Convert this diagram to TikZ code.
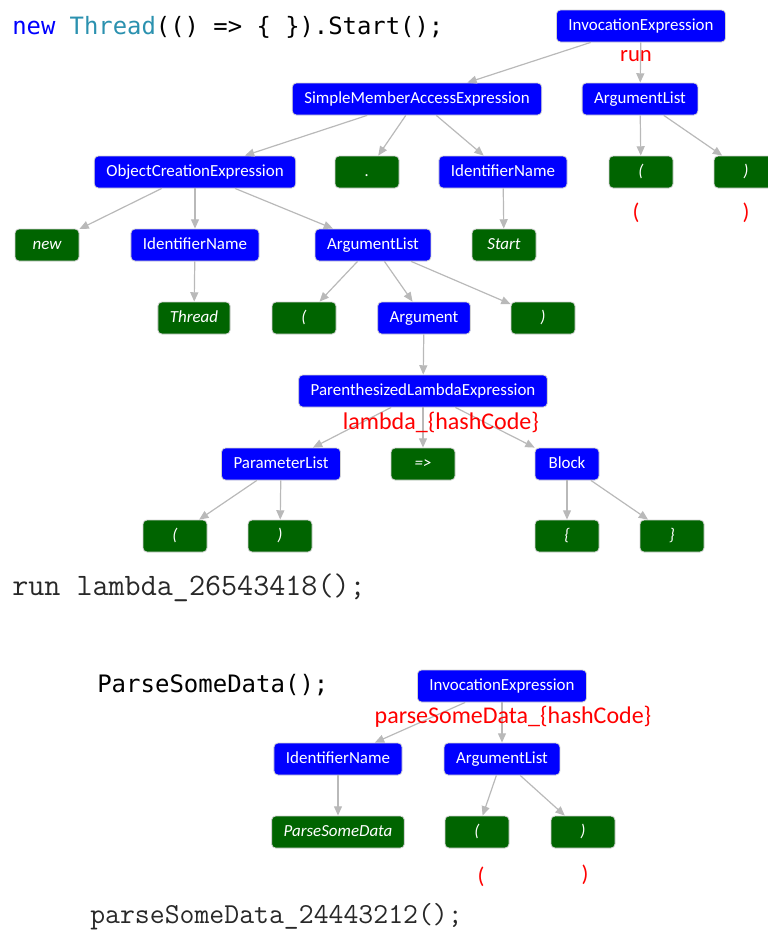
\documentclass[tikz,border=0pt]{standalone}
\usepackage{fontspec}
\setmainfont{Carlito}
\newfontfamily\consol{DejaVu Sans Mono}
\usetikzlibrary{arrows.meta}
\definecolor{synblue}{RGB}{0,0,255}
\definecolor{tokgreen}{RGB}{0,100,0}
\definecolor{edgegray}{RGB}{185,185,185}
\definecolor{typeteal}{RGB}{43,145,175}
\definecolor{kwblue}{RGB}{0,0,255}
\definecolor{annred}{RGB}{255,0,0}
\definecolor{outgray}{RGB}{40,40,40}
\begin{document}
\begin{tikzpicture}[x=0.75pt,y=-0.75pt,
  nodebase/.style={rounded corners=3pt, minimum height=24pt, minimum width=48pt,
    inner xsep=9pt, inner ysep=0pt, text=white, draw=gray!35, line width=0.6pt,
    text height=8.5pt, text depth=2.5pt},
  syn/.style={nodebase, fill=synblue, font=\fontsize{12.7}{14}\selectfont},
  tok/.style={nodebase, fill=tokgreen, font=\fontsize{12.7}{14}\selectfont\itshape},
  edge/.style={draw=edgegray, line width=0.9pt, -{Triangle[length=7pt,width=6pt]}},
  ann/.style={text=annred, inner sep=0pt},
  code/.style={anchor=west, inner sep=0pt}]
\useasboundingbox (0,0) rectangle (768,936);

% ---- new Thread(() => { }).Start();
\node[code, font=\consol\fontsize{17.9}{20}\selectfont] (src1) at (12,27)
  {\textcolor{kwblue}{new} \textcolor{typeteal}{Thread}(() => \{ \}).Start();};

\node[syn] (inv1) at (641,26) {InvocationExpression};
\node[ann, font=\fontsize{17}{19}\selectfont] (run) at (636,56) {run};

\node[syn] (sma) at (417,99) {SimpleMemberAccessExpression};
\node[syn] (al1) at (640,99) {ArgumentList};

\node[syn] (oce) at (195,172) {ObjectCreationExpression};
\node[tok] (dot) at (367,172) {.};
\node[syn] (idn1) at (503,172) {IdentifierName};
\node[tok] (lp1) at (641,172) {(};
\node[tok] (rp1) at (746,172) {)};
\node[ann, font=\fontsize{17}{19}\selectfont] (rlp1) at (636,213) {(};
\node[ann, font=\fontsize{17}{19}\selectfont] (rrp1) at (746,213) {)};

\node[tok] (new) at (47,245) {new};
\node[syn] (idn2) at (195,245) {IdentifierName};
\node[syn] (al2) at (373,245) {ArgumentList};
\node[tok] (start) at (504,245) {Start};

\node[tok] (thread) at (194,318) {Thread};
\node[tok] (lp2) at (304,318) {(};
\node[syn] (arg) at (424,318) {Argument};
\node[tok] (rp2) at (543,318) {)};

\node[syn] (ple) at (423,391) {ParenthesizedLambdaExpression};

\node[syn] (pl) at (281,464) {ParameterList};
\node[tok] (arrow) at (423,464) {=>};
\node[syn] (block) at (567,464) {Block};

\node[tok] (lp3) at (175,536) {(};
\node[tok] (rp3) at (280,536) {)};
\node[tok] (lb) at (567,536) {\{};
\node[tok] (rb) at (672,536) {\}};

\draw[edge] (inv1) -- (sma);
\draw[edge] (inv1) -- (al1);
\draw[edge] (sma) -- (oce);
\draw[edge] (sma) -- (dot);
\draw[edge] (sma) -- (idn1);
\draw[edge] (al1) -- (lp1);
\draw[edge] (al1) -- (rp1);
\draw[edge] (oce) -- (new);
\draw[edge] (oce) -- (idn2);
\draw[edge] (oce) -- (al2);
\draw[edge] (idn1) -- (start);
\draw[edge] (idn2) -- (thread);
\draw[edge] (al2) -- (lp2);
\draw[edge] (al2) -- (arg);
\draw[edge] (al2) -- (rp2);
\draw[edge] (arg) -- (ple);
\draw[edge] (ple) -- (pl);
\draw[edge] (ple) -- (arrow);
\draw[edge] (ple) -- (block);
\draw[edge] (pl) -- (lp3);
\draw[edge] (pl) -- (rp3);
\draw[edge] (block) -- (lb);
\draw[edge] (block) -- (rb);

\node[ann, font=\fontsize{18}{20}\selectfont] (lam) at (441,422) {lambda\_\{hashCode\}};

\node[code, text=outgray, font=\ttfamily\fontsize{23.4}{25}\selectfont] (out1) at (12,588) {run lambda\_26543418();};

% ---- ParseSomeData();
\node[code, font=\consol\fontsize{18}{20}\selectfont] (src2) at (97,685) {ParseSomeData();};

\node[syn] (inv2) at (502,686) {InvocationExpression};
\node[syn] (idn3) at (338,759) {IdentifierName};
\node[syn] (al3) at (502,759) {ArgumentList};
\node[tok] (psd) at (338,832) {ParseSomeData};
\node[tok] (lp4) at (477,832) {(};
\node[tok] (rp4) at (583,832) {)};

\draw[edge] (inv2) -- (idn3);
\draw[edge] (inv2) -- (al3);
\draw[edge] (idn3) -- (psd);
\draw[edge] (al3) -- (lp4);
\draw[edge] (al3) -- (rp4);

\node[ann, font=\fontsize{18}{20}\selectfont] (psdh) at (513,717) {parseSomeData\_\{hashCode\}};
\node[ann, font=\fontsize{17}{19}\selectfont] (rlp4) at (481,877) {(};
\node[ann, font=\fontsize{17}{19}\selectfont] (rrp4) at (585,875) {)};

\node[code, text=outgray, font=\ttfamily\fontsize{21.7}{24}\selectfont] (out2) at (90,917) {parseSomeData\_24443212();};
\end{tikzpicture}
\end{document}
